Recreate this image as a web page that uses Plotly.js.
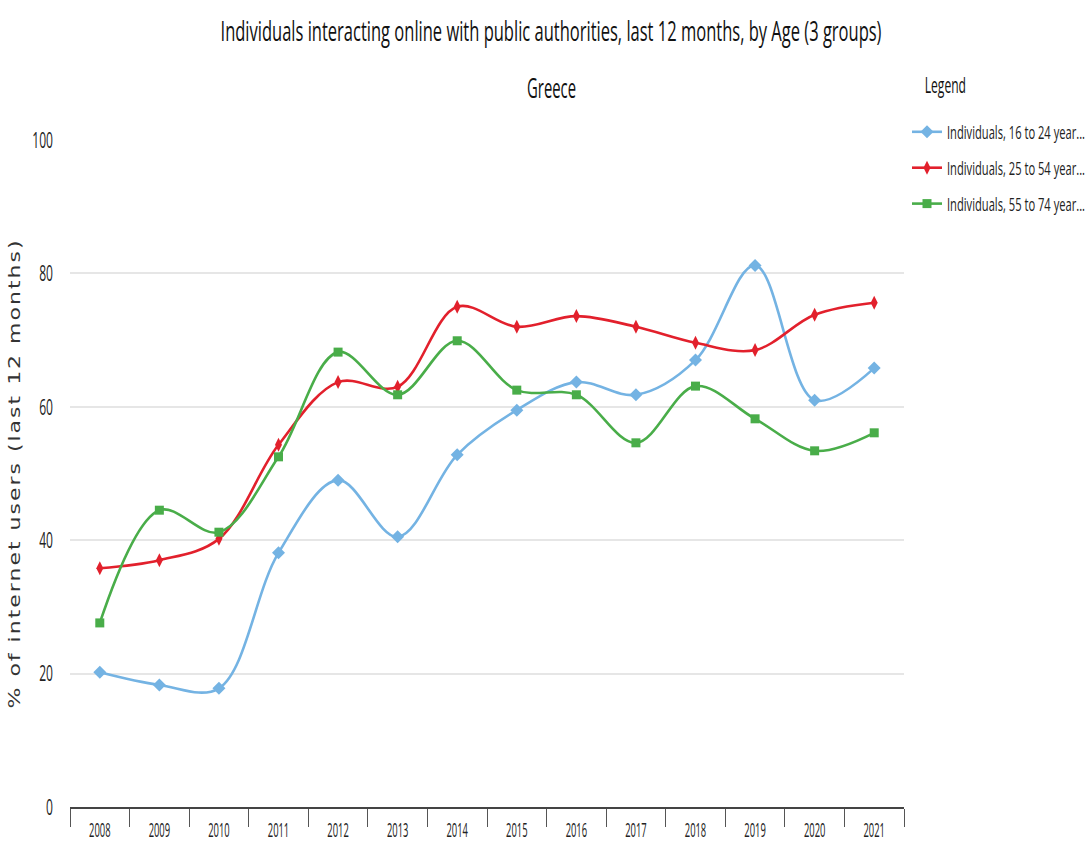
<!DOCTYPE html>
<html>
<head>
<meta charset="utf-8">
<script src="https://cdn.plot.ly/plotly-3.0.1.min.js"></script>
<style>
html,body{margin:0;padding:0;background:#fff;}
#chart{width:1088px;height:845px;}
#chart text.ytitle{letter-spacing:2px;}
</style>
</head>
<body>
<div id="chart"></div>
<script>
const years = ["2008","2009","2010","2011","2012","2013","2014","2015","2016","2017","2018","2019","2020","2021"];
const age16to24 = [20.2, 18.3, 17.8, 38.1, 49.0, 40.5, 52.8, 59.5, 63.7, 61.8, 67.0, 81.2, 61.0, 65.8];
const age25to54 = [35.8, 37.0, 40.2, 54.3, 63.7, 63.0, 75.0, 72.0, 73.6, 72.0, 69.6, 68.5, 73.8, 75.6];
const age55to74 = [27.6, 44.5, 41.2, 52.5, 68.2, 61.8, 69.9, 62.5, 61.8, 54.6, 63.1, 58.2, 53.4, 56.1];
const seriesNames = ["Individuals, 16 to 24 year...", "Individuals, 25 to 54 year...", "Individuals, 55 to 74 year..."];

const fam = '"Open Sans", sans-serif';

function tr(y, name, color, symbol, size, grp) {
  return {
    x: years, y: y, name: name, type: 'scatter', mode: 'lines+markers', legendgroup: grp,
    line: {color: color, width: 2.6, shape: 'spline', smoothing: 1},
    marker: {color: color, symbol: symbol, size: size},
    hoverinfo: 'x+y+name'
  };
}

const data = [
  tr(age16to24, seriesNames[0], '#74b3e3', 'diamond', 10, 'a'),
  tr(age25to54, seriesNames[1], '#e2202c', 'diamond-tall', 10, 'b'),
  tr(age55to74, seriesNames[2], '#49ad49', 'square', 9, 'c')
];

const layout = {
  width: 1088, height: 845,
  margin: {l: 70, r: 184, t: 140, b: 38, autoexpand: false},
  paper_bgcolor: '#fff', plot_bgcolor: '#fff',
  font: {family: fam, color: '#222', size: 14},
  title: {text: 'Individuals interacting online with public authorities, last 12 months, by Age (3 groups)',
          font: {family: fam, size: 28, color: '#111'}, x: 551/1088, xref: 'container', xanchor: 'center',
          y: 1 - 31/845, yref: 'container', yanchor: 'middle'},
  xaxis: {
    type: 'category', range: [-0.5, 13.5], showgrid: false, zeroline: false,
    showline: true, linecolor: '#444', linewidth: 2,
    ticks: 'outside', tickson: 'boundaries', ticklen: 18, tickcolor: '#555', tickwidth: 1,
    ticklabelstandoff: 4, tickangle: 0,
    tickfont: {family: fam, size: 20, color: '#222'}, fixedrange: true
  },
  yaxis: {
    range: [0, 100], tickvals: [0, 20, 40, 60, 80, 100], showgrid: true, gridcolor: '#e6e6e6', gridwidth: 2,
    zeroline: false, showline: false, ticks: '', ticklabelstandoff: 16,
    tickfont: {family: fam, size: 22, color: '#222'},
    title: {text: '% of internet users (last 12 months)', font: {family: '"DejaVu Sans", sans-serif', size: 22, color: '#333'}, standoff: 18}
  },
  showlegend: true,
  legend: {
    x: (907 - 70) / 834, xanchor: 'left', y: 1 - 72/845, yref: 'container', yanchor: 'top',
    title: {text: '<span style="font-size:22px">\u00a0\u00a0\u00a0\u00a0\u00a0Legend</span><br> ', font: {family: fam, size: 16, color: '#111'}},
    font: {family: fam, size: 18, color: '#222'},
    traceorder: 'grouped', tracegroupgap: 9.5, itemwidth: 30
  },
  annotations: [{
    text: 'Greece', xref: 'paper', yref: 'paper', x: (551 - 70) / 834, y: (807 - 88) / 667, xanchor: 'center', yanchor: 'middle',
    showarrow: false, font: {family: fam, size: 27, color: '#111'}
  }]
};

// horizontal condensing of the rendered text (the reference uses a narrow face)
function condense(gd) {
  const texts = gd.querySelectorAll('text');
  texts.forEach(t => {
    const x = parseFloat(t.getAttribute('x')) || 0;
    const y = parseFloat(t.getAttribute('y')) || 0;
    const base = t.getAttribute('transform') || '';
    let s = 0.55, vertical = false;
    if (t.classList.contains('ytitle')) { s = 0.72; vertical = true; }
    else if (t.classList.contains('gtitle')) s = 0.59;
    else if (t.classList.contains('legendtext')) s = 0.62;
    else if (t.closest('.xtick')) s = 0.47;
    else if (t.closest('.ytick')) s = 0.55;
    if (vertical) {
      t.setAttribute('transform', base + ` translate(${x},${y}) scale(1,${s}) translate(${-x},${-y})`);
    } else {
      t.setAttribute('transform', base + ` translate(${x},0) scale(${s},1) translate(${-x},0)`);
    }
  });
}

Plotly.newPlot('chart', data, layout, {displayModeBar: false, staticPlot: true}).then(gd => condense(gd));
</script>
</body>
</html>
